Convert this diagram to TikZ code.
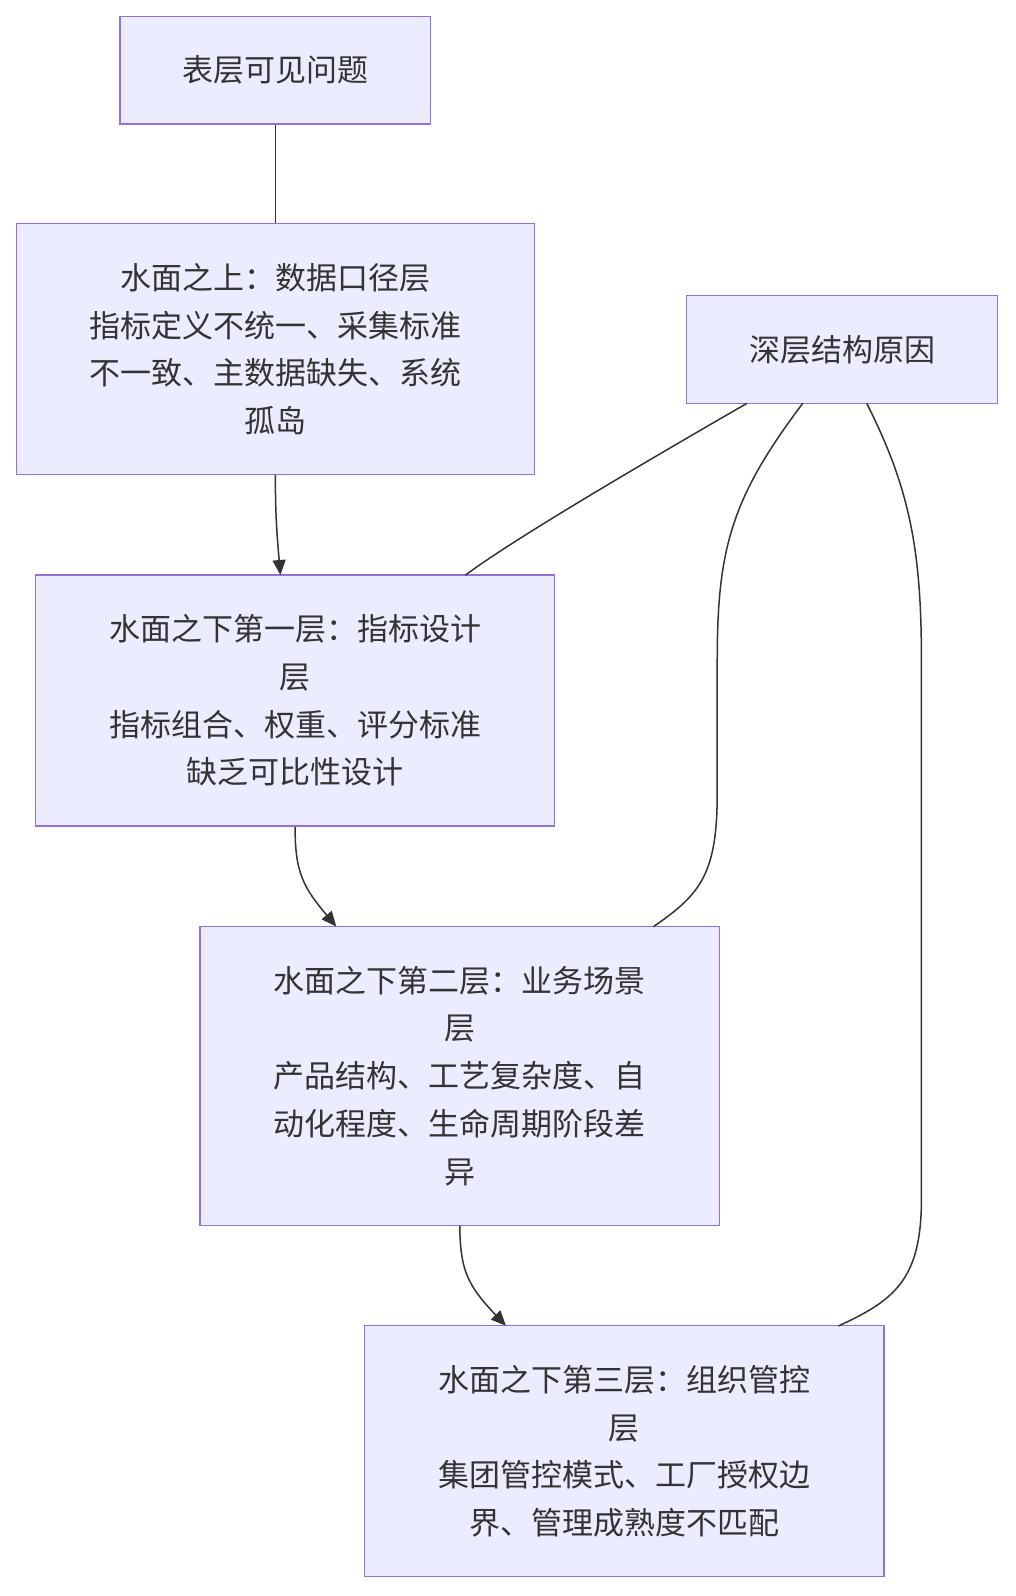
\documentclass[tikz,border=0pt]{standalone}
\usepackage{fontspec}
\newfontfamily\cjk{Noto Sans CJK SC}
\usetikzlibrary{arrows.meta}
\definecolor{bfill}{HTML}{ECECFF}
\definecolor{bdraw}{HTML}{9370DB}
\definecolor{lcol}{HTML}{333333}
\begin{document}
\begin{tikzpicture}[x=1pt,y=-1pt,scale=1.016,transform shape,
  box/.style={draw=bdraw,fill=bfill,line width=1.3pt,inner sep=0pt,align=center,
    font=\cjk\fontsize{30.5}{47}\selectfont,text=lcol},
  conn/.style={draw=lcol,line width=1.5pt},
  arr/.style={conn,-{Triangle[length=15pt,width=13pt]}}]
\useasboundingbox (0,0) rectangle (1000,1571);
\node[box,minimum width=306pt,minimum height=106pt] (a) at (271,69) {表层可见问题};
\node[box,minimum width=510pt,minimum height=247pt] (b) at (271,343.5) {水面之上：数据口径层\\指标定义不统一、采集标准\\不一致、主数据缺失、系统\\孤岛};
\node[box,minimum width=511pt,minimum height=247pt] (c) at (290.5,689.5) {水面之下第一层：指标设计\\层\\指标组合、权重、评分标准\\缺乏可比性设计};
\node[box,minimum width=511pt,minimum height=294pt] (d) at (452.5,1059) {水面之下第二层：业务场景\\层\\产品结构、工艺复杂度、自\\动化程度、生命周期阶段差\\异};
\node[box,minimum width=511pt,minimum height=247pt] (e) at (614.5,1428.5) {水面之下第三层：组织管控\\层\\集团管控模式、工厂授权边\\界、管理成熟度不匹配};
\node[box,minimum width=306pt,minimum height=106pt] (f) at (829,344) {深层结构原因};
\draw[conn] (a.south) -- (b.north);
\draw[arr] (b.south) .. controls (271,510) and (273,530) .. (276,566);
\draw[arr] (c.south) .. controls (290,860) and (300,875) .. (331,912);
\draw[arr] (d.south) .. controls (453,1250) and (460,1265) .. (498,1305);
\coordinate (f1) at (735,397); \coordinate (c1) at (458,566);
\draw[conn] (f1) .. controls (600,475) and (500,535) .. (c1);
\coordinate (f2) at (790,397); \coordinate (d1) at (643,912);
\draw[conn] (f2) .. controls (720,490) and (706,540) .. (706,650) -- (706,780) .. controls (706,860) and (690,880) .. (d1);
\coordinate (f3) at (853,397); \coordinate (e1) at (825,1305);
\draw[conn] (f3) .. controls (895,480) and (907,540) .. (907,650) -- (907,1180) .. controls (907,1260) and (880,1280) .. (e1);
\end{tikzpicture}
\end{document}
